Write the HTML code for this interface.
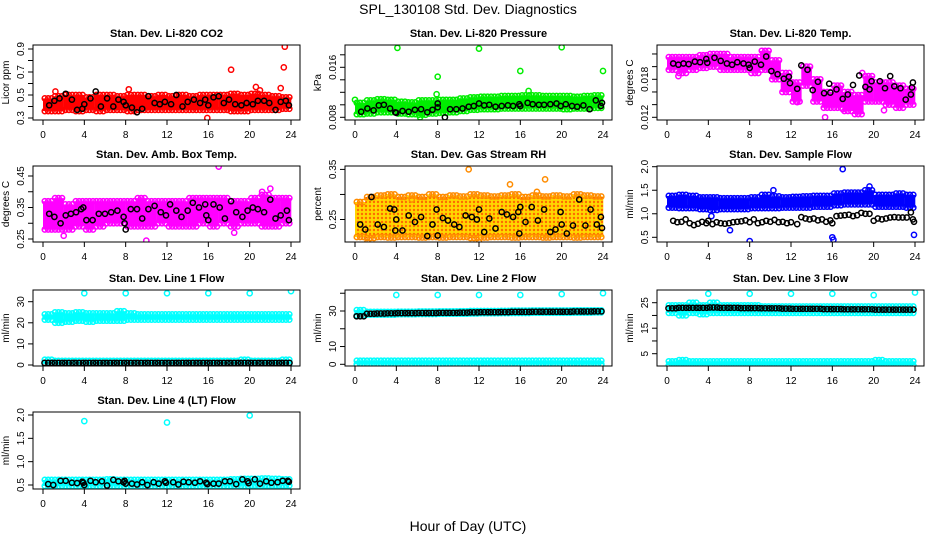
<!DOCTYPE html>
<html><head><meta charset="utf-8"><style>
html,body{margin:0;padding:0;background:#fff}
svg{display:block;font-family:"Liberation Sans",Arial,sans-serif}
</style></head><body>
<svg id="chart" width="936" height="540" viewBox="0 0 936 540" xmlns="http://www.w3.org/2000/svg">
<defs>
<pattern id="rhpat" width="4" height="4" patternUnits="userSpaceOnUse"><rect width="4" height="4" fill="#ffd700"/><circle cx="2" cy="2" r="1.2" fill="#ff6a00"/></pattern>
</defs>
<text x="468" y="14" font-size="14" text-anchor="middle">SPL_130108  Std. Dev. Diagnostics</text>
<text x="468" y="531" font-size="14" text-anchor="middle">Hour of Day (UTC)</text>
</svg>
<script>
// ---- data ----
const xTicks = [0,4,8,12,16,20,24];
// P1 CO2
const co2Lo = [0.36,0.36,0.37,0.36,0.37,0.36,0.37,0.37,0.36,0.37,0.37,0.37,0.37,0.37,0.37,0.37,0.37,0.37,0.36,0.36,0.37,0.37,0.37,0.38];
const co2Hi = [0.47,0.49,0.50,0.50,0.48,0.50,0.50,0.49,0.50,0.50,0.49,0.50,0.49,0.50,0.49,0.50,0.50,0.50,0.51,0.50,0.51,0.50,0.49,0.48];
const co2Out = [[18.2,0.72],[23.4,0.92],[23.3,0.74],[20.6,0.57],[23,0.56],[15.9,0.30],[1.2,0.53],[8.3,0.55],[21,0.54]];
const co2Blk = [[0.6,.41],[1.1,.45],[1.6,.47],[2.2,.51],[2.8,.46],[3.3,.37],[3.8,.38],[4,.42],[4.6,.47],[5.1,.53],[5.6,.40],[6.2,.47],[6.8,.40],[7.3,.46],[7.8,.44],[8,.41],[8.6,.39],[9.1,.35],[9.6,.38],[10.2,.49],[10.8,.43],[11.3,.42],[11.8,.44],[12.4,.42],[12.9,.50],[13.5,.40],[14,.44],[14.6,.46],[15.2,.43],[15.7,.46],[16,.41],[16.5,.48],[17,.49],[17.5,.43],[18,.46],[18.6,.42],[19.2,.41],[19.7,.43],[20.3,.42],[20.8,.45],[21.4,.45],[21.9,.43],[22.5,.37],[23,.44],[23.5,.45],[23.8,.41]];
// P2 pressure
const prLo = [0.0085,0.0086,0.0088,0.0088,0.0086,0.0085,0.0084,0.0086,0.0087,0.0088,0.0090,0.0092,0.0093,0.0093,0.0094,0.0094,0.0094,0.0094,0.0094,0.0094,0.0093,0.0094,0.0094,0.0095];
const prHi = [0.0103,0.0107,0.0109,0.0108,0.0105,0.0104,0.0107,0.0107,0.0108,0.0108,0.0110,0.0112,0.0113,0.0113,0.0114,0.0114,0.0115,0.0115,0.0114,0.0114,0.0114,0.0113,0.0114,0.0115];
const prOut = [[0,0.0108],[4.1,0.0191],[8,0.0145],[7.9,0.0117],[6.3,0.0080],[12,0.0190],[16,0.0154],[20,0.0192],[24,0.0154],[16.8,0.0122]];
const prBlk = [[0.6,.0089],[1.2,.0094],[1.8,.0091],[2.3,.0099],[2.8,.0100],[3.4,.0094],[3.9,.0088],[4,.0087],[4.6,.0090],[5.2,.0089],[5.8,.0092],[6.4,.0093],[7,.0088],[7.5,.0092],[8,.0096],[8,.0102],[8.7,.0080],[9.2,.0093],[9.8,.0093],[10.4,.0094],[11,.0097],[11.5,.0098],[12,.0102],[12.5,.0099],[13,.0100],[13.6,.0097],[14.2,.0098],[14.8,.0099],[15.3,.0098],[15.9,.0101],[16,.0098],[16.7,.0103],[17.2,.0101],[17.8,.0100],[18.3,.0100],[18.9,.0101],[19.5,.0102],[19.9,.0098],[20.4,.0101],[21,.0098],[21.5,.0097],[22.1,.0099],[22.7,.0093],[23.3,.0107],[23.8,.0098],[23.9,.0103]];
// P3 Li-820 temp
const ltLo = [0.0195,0.0190,0.0195,0.0198,0.0200,0.0195,0.0195,0.0195,0.0190,0.0195,0.0180,0.0160,0.0145,0.0170,0.0145,0.0135,0.0135,0.0130,0.0125,0.0145,0.0145,0.0140,0.0135,0.0140];
const ltHi = [0.0215,0.0215,0.0215,0.0218,0.0220,0.0220,0.0215,0.0215,0.0215,0.0225,0.0210,0.0190,0.0175,0.0200,0.0180,0.0160,0.0170,0.0160,0.0155,0.0185,0.0175,0.0175,0.0170,0.0165];
const ltOut = [[1.1,0.0185],[15.3,0.0120],[17,0.0133],[18.9,0.0190],[21,0.0131],[12.6,0.0144]];
const ltBlk = [[0.6,.0205],[1.1,.0203],[1.6,.0205],[2.1,.0204],[2.7,.0208],[3.2,.0207],[3.8,.0212],[3.9,.0206],[4.6,.0214],[5.2,.0209],[5.8,.0205],[6.3,.0203],[6.8,.0207],[7.4,.0205],[7.9,.0203],[8,.0198],[8.5,.0208],[9.1,.0203],[9.6,.0216],[10.1,.0193],[10.7,.0188],[11.3,.0181],[11.8,.0184],[11.9,.0174],[12.6,.0165],[13,.0202],[13.6,.0195],[14.1,.0163],[14.6,.0176],[15.2,.0158],[15.7,.0173],[15.8,.0159],[16.4,.0164],[17,.0149],[17.5,.0156],[18,.0171],[18.6,.0186],[19.2,.0168],[19.6,.0164],[19.8,.0177],[20.6,.0177],[21.1,.0166],[21.6,.0185],[22,.0169],[22.6,.0166],[23.1,.0148],[23.6,.0156],[23.7,.0167],[23.8,.0175]];
// P4 amb box temp
const abLo = [0.28,0.28,0.28,0.29,0.28,0.29,0.30,0.30,0.29,0.29,0.29,0.30,0.29,0.29,0.29,0.30,0.29,0.30,0.29,0.30,0.30,0.29,0.29,0.30];
const abHi = [0.37,0.38,0.36,0.37,0.37,0.37,0.37,0.37,0.37,0.38,0.37,0.37,0.37,0.37,0.38,0.38,0.38,0.38,0.37,0.37,0.38,0.39,0.38,0.38];
const abOut = [[17,0.48],[10,0.245],[2,0.26],[21.2,0.40],[22,0.41],[0.4,0.29],[18.5,0.27]];
const abBlk = [[0.6,.33],[1.1,.32],[1.7,.30],[2.2,.325],[2.7,.33],[3.2,.335],[3.7,.345],[3.9,.35],[4.2,.31],[4.8,.31],[5.4,.33],[6,.33],[6.6,.335],[7.2,.34],[7.8,.32],[7.9,.30],[8,.28],[8.5,.345],[9.1,.345],[9.6,.315],[10.2,.345],[10.8,.355],[11.4,.335],[11.9,.325],[12.3,.36],[12.9,.34],[13.4,.32],[14,.34],[14.5,.365],[15.1,.35],[15.7,.36],[15.8,.325],[16,.31],[16.5,.36],[17.1,.35],[17.6,.315],[18.2,.37],[18.7,.335],[19.3,.32],[19.8,.34],[20.3,.35],[20.8,.345],[21.4,.335],[22,.375],[22.5,.315],[23,.325],[23.6,.34],[23.8,.31]];
// P5 gas stream RH
const rhLo = [0.215,0.213,0.215,0.214,0.215,0.215,0.214,0.215,0.214,0.215,0.215,0.213,0.214,0.215,0.215,0.214,0.215,0.215,0.214,0.215,0.215,0.214,0.215,0.215];
const rhHi = [0.285,0.295,0.298,0.300,0.295,0.298,0.295,0.300,0.295,0.298,0.296,0.300,0.298,0.296,0.298,0.300,0.295,0.298,0.296,0.298,0.296,0.300,0.298,0.296];
const rhOut = [[11,0.35],[18.4,0.33],[15,0.32],[5.5,0.29],[12,0.205],[1.2,0.205],[17.6,0.305]];
const rhBlk = [[0.5,.24],[1,.23],[1.6,.295],[2.2,.24],[2.8,.235],[3.4,.272],[3.8,.27],[3.9,.228],[4,.25],[4.6,.228],[5.2,.258],[5.8,.245],[6.4,.255],[7,.217],[7.5,.24],[7.9,.27],[8,.218],[8.5,.253],[9,.248],[9.6,.24],[10.1,.235],[10.7,.258],[11.3,.255],[11.8,.25],[12,.27],[12.5,.225],[13,.252],[13.6,.232],[14.2,.265],[14.7,.26],[15.3,.255],[15.8,.265],[15.9,.222],[16,.275],[16.5,.245],[17.1,.275],[17.7,.248],[18.3,.27],[18.9,.225],[19.4,.23],[19.9,.265],[20,.24],[20.5,.222],[21.1,.238],[21.7,.29],[22.3,.238],[22.8,.27],[23.4,.24],[23.8,.255],[23.9,.233]];
// P6 sample flow
const sfLo = [1.13,1.12,1.12,1.10,1.08,1.10,1.10,1.10,1.12,1.12,1.12,1.13,1.13,1.13,1.15,1.15,1.18,1.20,1.20,1.20,1.15,1.15,1.15,1.13];
const sfHi = [1.38,1.40,1.38,1.35,1.35,1.33,1.33,1.33,1.35,1.40,1.37,1.35,1.36,1.37,1.38,1.38,1.43,1.45,1.45,1.50,1.40,1.40,1.43,1.40];
const sfOut = [[17,1.95],[8,0.42],[16,0.50],[16.1,0.45],[23.9,0.55],[6.1,0.65],[4.3,0.95],[19.6,1.58],[10.3,1.5]];
const sfBlk = [[0.6,.85],[1,.82],[1.4,.83],[1.8,.88],[2.2,.8],[2.6,.76],[3,.79],[3.4,.83],[3.8,.8],[4,.85],[4.4,.78],[4.8,.82],[5.2,.8],[5.6,.79],[6,.8],[6.4,.82],[6.8,.83],[7.2,.84],[7.6,.86],[8,.82],[8.4,.88],[8.8,.8],[9.2,.82],[9.6,.85],[10,.83],[10.4,.87],[10.8,.82],[11.2,.83],[11.6,.8],[12,.82],[12.6,.78],[13,.93],[13.4,.9],[13.8,.88],[14.2,.9],[14.6,.86],[15,.88],[15.4,.83],[15.8,.86],[16,.8],[16.4,.95],[16.8,.96],[17.2,.97],[17.6,.98],[18,.95],[18.4,.97],[18.8,1.02],[19.2,1],[19.6,1],[20,.85],[20.4,.9],[20.8,.88],[21.2,.9],[21.6,.92],[22,.93],[22.4,.92],[22.8,.92],[23.2,.92],[23.6,1.03],[23.8,.88],[23.9,.83]];
// P7 line 1
const l1UpLo = [21.5,20,20.5,21,20.5,21,21,21,21.5,21.5,21.5,21.5,21.5,21.5,21.5,21.5,21.5,21.5,21.5,21.5,21.5,21.5,21.5,21.5];
const l1UpHi = [24,25,24.5,25,24.5,24.5,24.5,25.5,24.5,24,24,24,24,24,24,24,24,24,24,24,24,24,24,24];
const l1DnLo = [0.5,0.5,0.5,0.5,0.5,0.5,0.5,0.5,0.5,0.5,0.5,0.5,0.5,0.5,0.5,0.5,0.5,0.5,0.5,0.5,0.5,0.5,0.5,0.5];
const l1DnHi = [2.5,2,2,2,2,2,2,2,2,2,2,2,2,2,2,2,2,2,2,2.5,2,2,2,2.5];
const l1Out = [[4,34],[8,34],[12,34],[16,34],[20,34],[24,35]];
const l1Blk = [1.0,1.0,1.0,1.0,1.0,1.0,1.0,1.0,1.0,1.0,1.0,1.0,1.0,1.0,1.0,1.0,1.0,1.0,1.0,1.0,1.0,1.0,1.0,1.0];
// P8 line 2
const l2UpLo = [27.5,28,28,28,28.2,28.2,28.3,28.3,28.4,28.5,28.5,28.6,28.7,28.7,28.8,28.9,28.9,29,29,29,29,29.1,29.1,29.2];
const l2UpHi = [30.5,29.5,29.5,29.5,29.6,29.6,29.7,29.7,29.8,29.8,29.9,30,30,30,30.1,30.2,30.2,30.3,30.3,30.3,30.3,30.4,30.4,30.4];
const l2DnLo = [0,0,0,0,0,0,0,0,0,0,0,0,0,0,0,0,0,0,0,0,0,0,0,0];
const l2DnHi = [2,2,2,2,2,2,2,2,2,2,2,2,2,2,2,2,2,2,2,2,2,2,2,2];
const l2Out = [[4,39],[8,39],[12,39],[16,39],[20,39.5],[24,40]];
const l2Blk = [27,28.5,28.6,28.7,28.8,28.8,28.9,28.9,29,29,29.1,29.2,29.3,29.3,29.4,29.5,29.5,29.6,29.6,29.6,29.6,29.7,29.7,29.8];
// P9 line 3
const l3UpLo = [21,20,21,20.5,21,21,21,21,21,21,21,21,21,21,21,21,21,21,21,21,21,21,21,21];
const l3UpHi = [24,24,25,24,25,24,24,24,24,23.5,23.5,23.5,23.5,23.5,23.5,23.5,23.5,23.5,23.5,23.5,23.5,23.5,23.5,23.5];
const l3DnLo = [0.5,0.5,0.5,0.5,0.5,0.5,0.5,0.5,0.5,0.5,0.5,0.5,0.5,0.5,0.5,0.5,0.5,0.5,0.5,0.5,0.5,0.5,0.5,0.5];
const l3DnHi = [2,2.5,2,2,2,2,2,2,2,2,2,2,2,2,2,2,2,2,2,2,2.5,2,2,2];
const l3Out = [[4,28.5],[8,28.5],[12,28.5],[16,28.5],[20,28],[24,29]];
const l3Blk = [22.8,23,23,23,23.1,23,23,22.9,22.9,22.8,22.8,22.7,22.6,22.6,22.6,22.5,22.5,22.4,22.4,22.4,22.3,22.3,22.3,22.3];
// P10 line 4
const l4Lo = [0.48,0.48,0.48,0.48,0.48,0.48,0.48,0.48,0.48,0.48,0.48,0.48,0.48,0.48,0.48,0.48,0.48,0.48,0.48,0.48,0.49,0.49,0.49,0.49];
const l4Hi = [0.61,0.61,0.61,0.61,0.61,0.61,0.62,0.61,0.61,0.61,0.61,0.61,0.61,0.61,0.61,0.61,0.61,0.61,0.62,0.63,0.63,0.64,0.63,0.62];
const l4Out = [[4,1.87],[12,1.84],[20,1.99]];
const l4Blk = [[0.5,.52],[1,.50],[1.7,.59],[2.2,.59],[2.8,.55],[3.3,.54],[3.8,.57],[3.9,.55],[4,.50],[4.6,.59],[5.1,.56],[5.7,.58],[6.2,.49],[6.8,.61],[7.3,.58],[7.8,.56],[7.9,.59],[8,.53],[8.6,.53],[9.1,.51],[9.6,.56],[10.1,.50],[10.7,.56],[11.2,.53],[11.8,.58],[11.9,.55],[12.6,.56],[13.1,.51],[13.6,.57],[14.1,.56],[14.7,.55],[15.2,.58],[15.8,.55],[15.9,.52],[16.5,.53],[17,.53],[17.6,.58],[18.1,.58],[18.7,.52],[19.3,.62],[19.8,.58],[19.9,.54],[20.5,.62],[21,.53],[21.6,.58],[22.1,.55],[22.7,.56],[23.2,.59],[23.7,.59],[23.8,.57]];

// ---- layout ----
const NS = "http://www.w3.org/2000/svg";
const svg = document.getElementById('chart');
const cols = [[33,300],[345,612],[657,924]];
const rows = [[45,120],[166,242],[290,366],[412,489]];
function el(tag, attrs, parent){const e=document.createElementNS(NS,tag);for(const k in attrs)e.setAttribute(k,attrs[k]);(parent||svg).appendChild(e);return e;}
function mkY(v1,p1,v2,p2){return v=>p1+(v-v1)*(p2-p1)/(v2-v1);}

const panels = [
 {c:0,r:0,title:'Stan. Dev. Li-820 CO2',ylab:'Licor ppm',y:mkY(0.9,49,0.3,118),ticks:[0.3,0.4,0.5,0.6,0.7,0.8,0.9],labels:[0.3,0.5,0.7,0.9],dp:1,col:'#ff0000',lo:co2Lo,hi:co2Hi,out:co2Out,blk:co2Blk},
 {c:1,r:0,title:'Stan. Dev. Li-820 Pressure',ylab:'kPa',y:mkY(0.008,117.3,0.016,67.3),ticks:[0.008,0.010,0.012,0.014,0.016,0.018],labels:[0.008,0.016],dp:3,col:'#00ee00',lo:prLo,hi:prHi,out:prOut,blk:prBlk},
 {c:2,r:0,title:'Stan. Dev. Li-820 Temp.',ylab:'degrees C',y:mkY(0.012,117.3,0.018,79.3),ticks:[0.012,0.014,0.016,0.018,0.020,0.022],labels:[0.012,0.018],dp:3,col:'#ff00ff',lo:ltLo,hi:ltHi,out:ltOut,blk:ltBlk},
 {c:0,r:1,title:'Stan. Dev. Amb. Box Temp.',ylab:'degrees C',y:mkY(0.45,176,0.25,239),ticks:[0.25,0.30,0.35,0.40,0.45],labels:[0.25,0.35,0.45],dp:2,col:'#ff00ff',lo:abLo,hi:abHi,out:abOut,blk:abBlk},
 {c:1,r:1,title:'Stan. Dev. Gas Stream RH',ylab:'percent',y:mkY(0.35,169.4,0.25,219.5),ticks:[0.25,0.30,0.35],labels:[0.25,0.35],dp:2,col:'#ff8c00',fill:'url(#rhpat)',lo:rhLo,hi:rhHi,out:rhOut,blk:rhBlk},
 {c:2,r:1,title:'Stan. Dev. Sample Flow',ylab:'ml/min',y:mkY(2.0,166.7,0.5,237.3),ticks:[0.5,1.0,1.5,2.0],labels:[0.5,1.0,1.5,2.0],dp:1,col:'#0000ff',lo:sfLo,hi:sfHi,out:sfOut,blk:sfBlk},
 {c:0,r:2,title:'Stan. Dev. Line 1 Flow',ylab:'ml/min',y:mkY(30,301.7,0,365),ticks:[0,10,20,30],labels:[0,10,20,30],dp:0,col:'#00ffff',lo:l1UpLo,hi:l1UpHi,lo2:l1DnLo,hi2:l1DnHi,out:l1Out,blkH:l1Blk},
 {c:1,r:2,title:'Stan. Dev. Line 2 Flow',ylab:'ml/min',y:mkY(30,311,0,364.3),ticks:[0,10,20,30,40],labels:[0,10,30],dp:0,col:'#00ffff',lo:l2UpLo,hi:l2UpHi,lo2:l2DnLo,hi2:l2DnHi,out:l2Out,blkH:l2Blk},
 {c:2,r:2,title:'Stan. Dev. Line 3 Flow',ylab:'ml/min',y:mkY(25,302.7,5,353.7),ticks:[5,10,15,20,25],labels:[5,15,25],dp:0,col:'#00ffff',lo:l3UpLo,hi:l3UpHi,lo2:l3DnLo,hi2:l3DnHi,out:l3Out,blkH:l3Blk},
 {c:0,r:3,title:'Stan. Dev. Line 4 (LT) Flow',ylab:'ml/min',y:mkY(2.0,415,0.5,485),ticks:[0.5,1.0,1.5,2.0],labels:[0.5,1.0,1.5,2.0],dp:1,col:'#00ffff',lo:l4Lo,hi:l4Hi,out:l4Out,blk:l4Blk}
];

function ring(g,x,y,color){
  const c=el('circle',{cx:x.toFixed(1),cy:y.toFixed(1),r:2.6,fill:'none',stroke:color,'stroke-width':1.5},g);
  return c;
}
function band(g,P,X,lo,hi){
  const fill=P.fill||P.col;
  for(let i=0;i<lo.length;i++){
    const y1=P.y(hi[i]), y2=P.y(lo[i]);
    const r=el('rect',{x:X(i).toFixed(1),y:y1.toFixed(1),width:(X(i+1)-X(i)+0.3).toFixed(1),height:(y2-y1).toFixed(1),fill:fill},g);
    
    
    for(let k=0;k<3;k++){
      const h=i+0.17+k/3;
      ring(g,X(h),y1,P.col);
      ring(g,X(h),y2,P.col);
    }
  }
}

panels.forEach((P,idx)=>{
  const [L,R]=cols[P.c],[T,B]=rows[P.r];
  const X=h=>L+10+h*(R-L-19)/24;
  const g=el('g',{});
  
  
  el('clipPath',{id:'clip'+idx},g).appendChild(Object.assign(document.createElementNS(NS,'rect'),{}));
  const cp=g.lastChild.firstChild;cp.setAttribute('x',L);cp.setAttribute('y',T);cp.setAttribute('width',R-L);cp.setAttribute('height',B-T);
  const pg=el('g',{'clip-path':'url(#clip'+idx+')'},g);
  
  
  band(pg,P,X,P.lo,P.hi);
  if(P.lo2) band(pg,P,X,P.lo2,P.hi2);
  P.out.forEach(d=>{const c=ring(pg,X(d[0]),P.y(d[1]),P.col);
    
    });
  if(P.blk) P.blk.forEach(d=>{const c=ring(pg,X(d[0]),P.y(d[1]),'#000');
    
    });
  if(P.blkH) P.blkH.forEach((v,i)=>{[0.15,0.5,0.85].forEach(f=>{const c=ring(pg,X(i+f),P.y(v),'#000');
    
    });});
  // box
  const bx=el('rect',{x:L,y:T,width:R-L,height:B-T,fill:'none',stroke:'#000','stroke-width':1},g);
  
  
  // title
  const t=el('text',{x:(L+R)/2,y:T-8,'font-size':11,'font-weight':'bold','text-anchor':'middle'},g);t.textContent=P.title;
  
  
  // x axis
  xTicks.forEach(v=>{
    el('line',{x1:X(v),x2:X(v),y1:B,y2:B+5,stroke:'#000'},g);
    const tx=el('text',{x:X(v),y:B+18,'font-size':10,'text-anchor':'middle'},g);tx.textContent=v;
    
    
  });
  // y axis
  P.ticks.forEach(v=>{const yy=P.y(v);el('line',{x1:L-5,x2:L,y1:yy,y2:yy,stroke:'#000'},g);});
  P.labels.forEach(v=>{const yy=P.y(v);
    const ty=el('text',{x:L-9,y:yy,'font-size':10,'text-anchor':'middle',transform:`rotate(-90 ${L-9} ${yy})`},g);
    ty.textContent=v.toFixed(P.dp);
    
    
  });
  const yl=el('text',{x:L-24,y:(T+B)/2,'font-size':10,'text-anchor':'middle',transform:`rotate(-90 ${L-24} ${(T+B)/2})`},g);
  yl.textContent=P.ylab;
  
  
});
</script>
</body></html>
